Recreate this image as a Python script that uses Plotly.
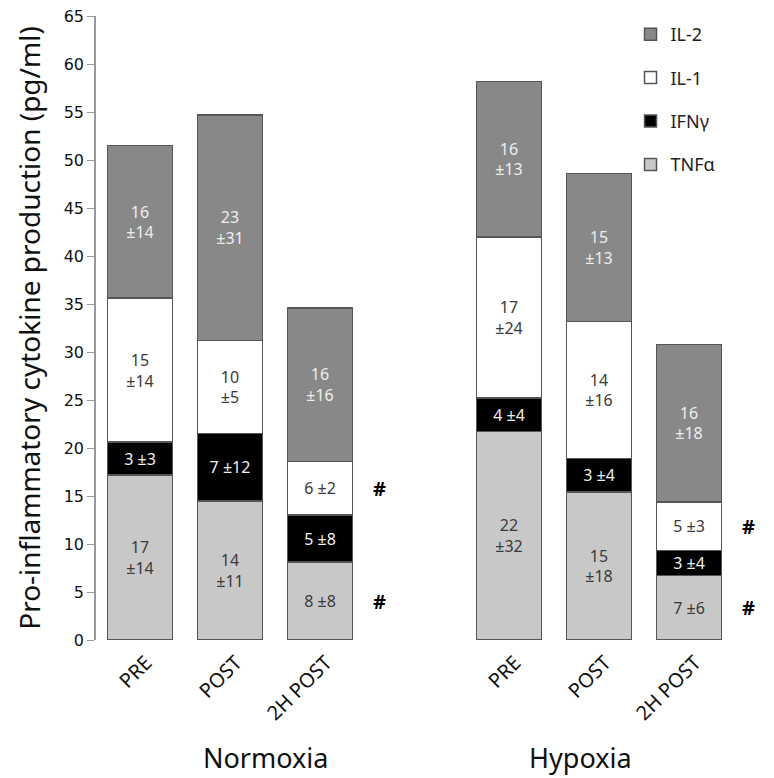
import plotly.graph_objects as go

# ---- data ----
conditions = ["PRE", "POST", "2H POST", "PRE", "POST", "2H POST"]
groups = ["Normoxia", "Hypoxia"]
positions = [0, 1, 2, 4.1, 5.1, 6.1]

tnf_mean = [17.2, 14.5, 8.1, 21.7, 15.4, 6.7]
ifn_mean = [3.4, 7.0, 4.9, 3.5, 3.5, 2.6]
il1_mean = [15.0, 9.7, 5.6, 16.8, 14.3, 5.1]
il2_mean = [15.9, 23.5, 16.0, 16.2, 15.4, 16.4]

tnf_lbl = ["17<br>±14", "14<br>±11", "8 ±8", "22<br>±32", "15<br>±18", "7 ±6"]
ifn_lbl = ["3 ±3", "7 ±12", "5 ±8", "4 ±4", "3 ±4", "3 ±4"]
il1_lbl = ["15<br>±14", "10<br>±5", "6 ±2", "17<br>±24", "14<br>±16", "5 ±3"]
il2_lbl = ["16<br>±14", "23<br>±31", "16<br>±16", "16<br>±13", "15<br>±13", "16<br>±18"]

# significance marks (#) : segment name per bar index
sig_marks = [(2, "IL-1"), (2, "TNFα"), (5, "IL-1"), (5, "TNFα")]

series = [
    ("TNFα", tnf_mean, tnf_lbl, "#c8c8c8", "#3a3a3a", 4),
    ("IFNγ", ifn_mean, ifn_lbl, "#000000", "#f0f0f0", 3),
    ("IL-1", il1_mean, il1_lbl, "#ffffff", "#3a3a3a", 2),
    ("IL-2", il2_mean, il2_lbl, "#888888", "#eeeeee", 1),
]

FONT = "Noto Sans"
TICKFONT = "DejaVu Sans"
fig = go.Figure()
for name, vals, lbls, col, tcol, rank in series:
    fig.add_trace(go.Bar(
        x=positions, y=vals, name=name, text=lbls,
        textposition="inside", insidetextanchor="middle", textangle=0,
        textfont=dict(size=16, color=tcol, family=FONT),
        marker=dict(color=col, line=dict(color="#555555", width=1.5)),
        width=0.72, legendgroup=name, legendrank=rank, hoverinfo="skip",
    ))

# midpoints of segments for # marks
cum = {}
base = [0] * len(positions)
for name, vals, *_ in series:
    cum[name] = [b + v / 2 for b, v in zip(base, vals)]
    base = [b + v for b, v in zip(base, vals)]

annotations = []
for idx, seg in sig_marks:
    annotations.append(dict(x=positions[idx] + 0.66, y=cum[seg][idx], text="<b>#</b>",
                            showarrow=False, font=dict(size=20, color="#000", family=FONT),
                            xref="x", yref="y"))
for g, gx in zip(groups, [1.39, 4.89]):
    annotations.append(dict(x=gx, y=-0.188, yref="paper", xref="x",
                            text=g, showarrow=False, yanchor="middle",
                            font=dict(size=27, color="#111", family=FONT)))

fig.update_layout(
    width=774, height=778,
    margin=dict(l=96, r=14, t=16, b=138, autoexpand=False),
    barmode="stack",
    uniformtext=dict(minsize=16, mode="show"),
    plot_bgcolor="white", paper_bgcolor="white",
    showlegend=True,
    legend=dict(x=0.805, y=1.0, xanchor="left", yanchor="top",
                traceorder="grouped", tracegroupgap=17,
                font=dict(size=18, color="#222", family=FONT),
                itemwidth=30, bgcolor="rgba(0,0,0,0)"),
    annotations=annotations,
    xaxis=dict(range=[-0.489, 6.889], tickvals=positions, ticktext=conditions,
               tickangle=-45, showgrid=False, zeroline=False, showline=False,
               ticks="", automargin=False, ticklabelshift=6, ticklabelstandoff=6,
               tickfont=dict(size=20, color="#111", family=FONT)),
    yaxis=dict(range=[0, 65], dtick=5, showgrid=False, zeroline=False,
               showline=True, linecolor="#999999", linewidth=1.5,
               ticks="outside", tickcolor="#999999", ticklen=7, automargin=False,
               tickfont=dict(size=16, color="#111", family=TICKFONT),
               title=dict(text="Pro-inflammatory cytokine production (pg/ml)",
                          font=dict(size=28, color="#111", family=FONT))),
)

fig.write_html("out.html", config={"displayModeBar": False},
               post_script="document.body.style.margin='0';")
